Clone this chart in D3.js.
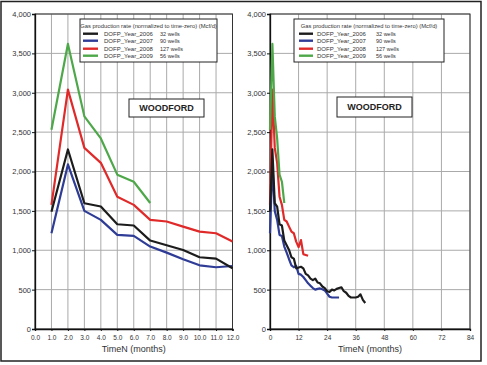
<!DOCTYPE html>
<html><head><meta charset="utf-8">
<script src="https://cdn.jsdelivr.net/npm/d3@7"></script>
<style>
body{margin:0;background:#fff;}
svg text{font-family:"Liberation Sans",Arial,sans-serif;}
</style></head>
<body>
<svg id="c" width="487" height="365"></svg>
<script>
// ---- data ----
const seriesNames = ["DOFP_Year_2006","DOFP_Year_2007","DOFP_Year_2008","DOFP_Year_2009"];
const wellCounts = ["32 wells","90 wells","127 wells","56 wells"];
const seriesColors = ["#1c1c1c","#2e3c96","#e02a2a","#4ea84a"];
// monthly gas rate (Mcf/d), month 1 first
const rate2006 = [1490,2280,1597,1555,1330,1314,1123,1064,1004,911,894,771,780,790,770,700,680,640,620,640,590,580,540,520,480,470,500,490,510,520,530,480,460,420,400,400,400,410,440,370,330];
const rate2007 = [1216,2090,1500,1386,1195,1182,1047,970,886,809,784,800,700,690,660,620,580,550,520,500,510,515,505,490,450,410,400,400,400,400];
const rate2008 = [1576,3040,2300,2110,1680,1576,1386,1365,1300,1237,1216,1110,1040,1130,950,940,930];
const rate2009 = [2530,3620,2700,2420,1960,1870,1600];
const allRates = [rate2006, rate2007, rate2008, rate2009];
const yTicks = [0,500,1000,1500,2000,2500,3000,3500,4000];
const leftXTicks = [0,1,2,3,4,5,6,7,8,9,10,11,12];
const rightXTicks = [0,12,24,36,48,60,72,84];
const legendTitle = "Gas production rate (normalized to time-zero) (Mcf/d)";
const boxLabel = "WOODFORD";
const xTitle = "TimeN (months)";

const svg = d3.select("#c");
// outer frame
svg.append("rect").attr("x",1).attr("y",1.5).attr("width",480).attr("height",359.5)
  .attr("fill","none").attr("stroke","#222").attr("stroke-width",1.5);

function panel(opts){
  const x = d3.scaleLinear().domain(opts.xDomain).range([opts.x0, opts.x1]);
  const y = d3.scaleLinear().domain([0,4000]).range([329,14]);
  const g = svg.append("g");
  // grid
  g.selectAll(".vg").data(opts.xGrid).enter().append("line")
    .attr("x1",d=>x(d)).attr("x2",d=>x(d)).attr("y1",y(0)).attr("y2",y(4000))
    .attr("stroke","#aaa").attr("stroke-width",1);
  g.selectAll(".hg").data(yTicks).enter().append("line")
    .attr("x1",x.range()[0]).attr("x2",x.range()[1]).attr("y1",d=>y(d)).attr("y2",d=>y(d))
    .attr("stroke","#aaa").attr("stroke-width",1);
  // frame
  g.append("rect").attr("x",opts.x0).attr("y",y(4000)).attr("width",opts.x1-opts.x0).attr("height",y(0)-y(4000))
    .attr("fill","none").attr("stroke","#333").attr("stroke-width",1);
  // axes
  const ya = d3.axisLeft(y).tickValues(yTicks).tickFormat(d3.format(",")).tickSize(3).tickPadding(1);
  const yg = g.append("g").attr("transform",`translate(${opts.x0},0)`).call(ya);
  const xa = d3.axisBottom(x).tickValues(opts.xTicks).tickFormat(opts.xFmt).tickSize(2).tickPadding(4);
  const xg = g.append("g").attr("transform",`translate(0,${y(0)})`).call(xa);
  [yg,xg].forEach(a=>{
    a.select(".domain").attr("stroke","#111").attr("stroke-width",1.3);
    a.selectAll(".tick line").attr("stroke","#111");
    a.selectAll("text").attr("font-family","Liberation Sans, Arial, sans-serif").attr("fill","#333");
  });
  yg.selectAll("text").attr("font-size","7.5px");
  xg.selectAll("text").attr("font-size","6.5px");
  // x title
  g.append("text").attr("x",(opts.x0+opts.x1)/2).attr("y",352).attr("text-anchor","middle")
    .attr("font-size","9px").attr("fill","#333").text(xTitle);
  // lines
  const order = [2,3,1,0];
  order.forEach(k=>{
    const pts = opts.pick(allRates[k]);
    const line = d3.line().x(d=>x(d[0])).y(d=>y(d[1]));
    g.append("path").datum(pts).attr("d",line).attr("fill","none")
      .attr("stroke",seriesColors[k]).attr("stroke-width",2.2).attr("stroke-linejoin","round");
  });
  // legend
  const L = opts.legend;
  g.append("rect").attr("x",L.x).attr("y",L.y).attr("width",L.w).attr("height",L.h)
    .attr("fill","#fff").attr("stroke","#222").attr("stroke-width",1);
  g.append("text").attr("x",L.x+L.w/2).attr("y",L.y+9).attr("text-anchor","middle")
    .attr("font-size","5.8px").attr("fill","#333").text(legendTitle);
  const rowsY = [16.5,23.5,31.5,38.5];
  seriesNames.forEach((n,i)=>{
    g.append("line").attr("x1",L.x+L.lx).attr("x2",L.x+L.lx+L.lw).attr("y1",L.y+rowsY[i]-1.8).attr("y2",L.y+rowsY[i]-1.8)
      .attr("stroke",seriesColors[i]).attr("stroke-width",2.4);
    g.append("text").attr("x",L.x+L.tx).attr("y",L.y+rowsY[i]).attr("font-size","6px").attr("fill","#333").text(n);
    g.append("text").attr("x",L.x+L.wx).attr("y",L.y+rowsY[i]).attr("font-size","5.5px").attr("fill","#333").text(wellCounts[i]);
  });
  // label box
  const B = opts.box;
  g.append("rect").attr("x",B.x).attr("y",B.y).attr("width",B.w).attr("height",B.h)
    .attr("fill","#fff").attr("stroke","#222").attr("stroke-width",1);
  g.append("text").attr("x",B.x+B.w/2).attr("y",B.y+B.h/2+3.3).attr("text-anchor","middle")
    .attr("font-size","9px").attr("font-weight","bold").attr("fill","#222").text(boxLabel);
}

panel({
  xDomain:[0,12], x0:35, x1:232.5, xGrid:leftXTicks, xTicks:leftXTicks, xFmt:d3.format(".1f"),
  pick: arr => arr.slice(0,12).map((v,i)=>[i+1,v]),
  legend:{x:80,y:19,w:137,h:43,lx:3,lw:15,tx:24,wx:80},
  box:{x:129,y:99,w:75,h:18}
});
panel({
  xDomain:[0,84], x0:270, x1:470, xGrid:rightXTicks, xTicks:rightXTicks, xFmt:d3.format("d"),
  pick: arr => arr.map((v,i)=>[i,v]),
  legend:{x:294,y:19,w:150,h:43,lx:5,lw:14,tx:23,wx:82},
  box:{x:337,y:97,w:75,h:20}
});
</script>
</body></html>
